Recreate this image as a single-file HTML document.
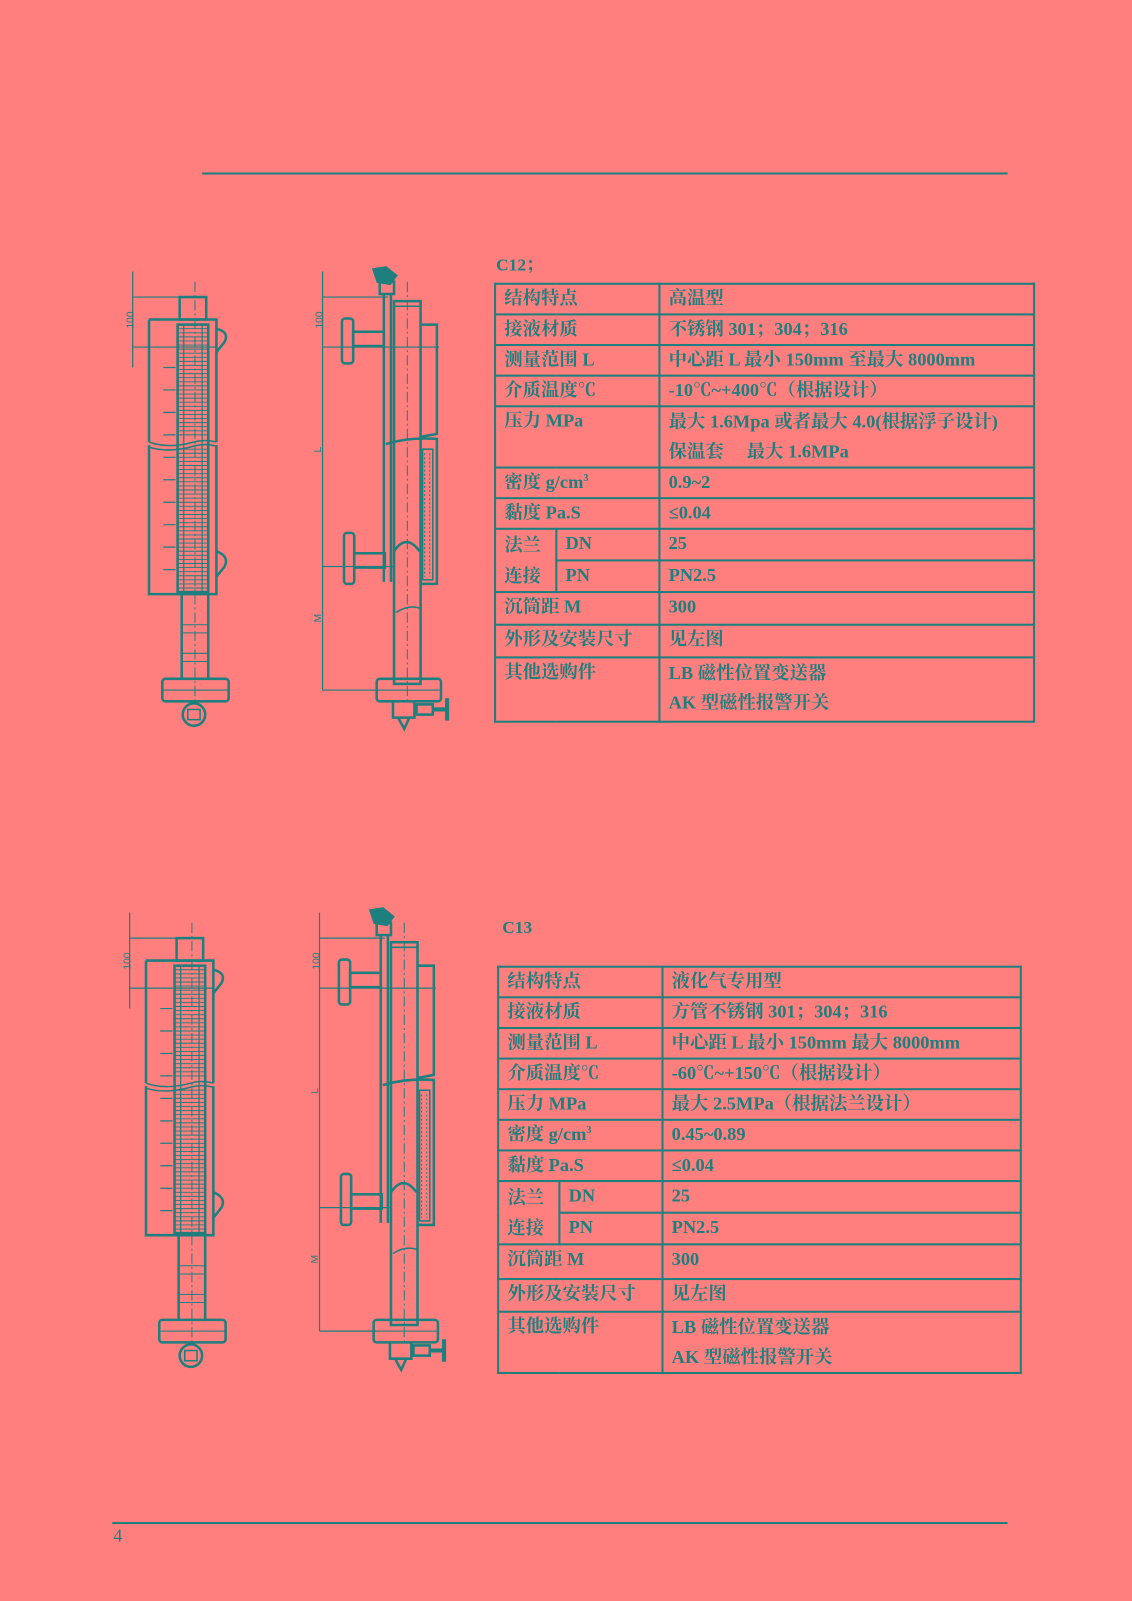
<!DOCTYPE html>
<html><head><meta charset="utf-8"><style>
html,body{margin:0;padding:0;}
body{width:1132px;height:1600px;background:#FF7F7F;overflow:hidden;position:relative;font-family:"Liberation Serif","Noto Serif CJK SC","Noto Sans CJK SC",serif;color:#1E7F7F;}
#wrap{position:absolute;left:0;top:0;width:1109px;height:1568px;transform:scale(1.0208);transform-origin:0 0;}
.t{position:absolute;border-collapse:collapse;font-size:18px;font-weight:bold;}
.t td{border:2px solid #1E7F7F;padding:0 0 0 8px;vertical-align:top;line-height:27px;}
.lbl{position:absolute;font-size:17px;font-weight:bold;}
</style></head><body><div id="wrap">
<svg width="1109" height="1568" style="position:absolute;left:0;top:0" fill="none" stroke="#1E7F7F" stroke-width="2.5">
<line x1="198" y1="170" x2="987" y2="170" stroke-width="2"/>
<line x1="110" y1="1492" x2="987" y2="1492" stroke-width="2"/>
<defs>
<g id="dr">
 <line x1="130" y1="266" x2="130" y2="360" stroke-width="1.2"/>
 <line x1="130" y1="291" x2="200" y2="291" stroke-width="1.2"/>
 <line x1="130" y1="340" x2="212" y2="340" stroke-width="1.2"/>
 <line x1="191" y1="276" x2="191" y2="690" stroke-width="1" stroke-dasharray="10 3 2 3"/>
 <rect x="176" y="291" width="26" height="22"/>
 <path d="M146 313 H212 V433 M146 313 V433 M146 436 V582 H212 V436"/>
 <path d="M146 433 Q165 440 190 433 Q200 430 212 433 M146 438 Q165 444 190 437 Q200 434 212 437" stroke-width="1.5"/>
 <rect x="174" y="318" width="30" height="262"/>
 <path d="M180 318 V580 M198 318 V580" stroke-width="1.2"/>
 <path d="M174 322 H204 M174 326 H204 M174 330 H204 M174 334 H204 M174 338 H204 M174 342 H204 M174 346 H204 M174 350 H204 M174 354 H204 M174 358 H204 M174 362 H204 M174 366 H204 M174 370 H204 M174 374 H204 M174 378 H204 M174 382 H204 M174 386 H204 M174 390 H204 M174 394 H204 M174 398 H204 M174 402 H204 M174 406 H204 M174 410 H204 M174 414 H204 M174 418 H204 M174 422 H204 M174 426 H204 M174 440 H204 M174 444 H204 M174 448 H204 M174 452 H204 M174 456 H204 M174 460 H204 M174 464 H204 M174 468 H204 M174 472 H204 M174 476 H204 M174 480 H204 M174 484 H204 M174 488 H204 M174 492 H204 M174 496 H204 M174 500 H204 M174 504 H204 M174 508 H204 M174 512 H204 M174 516 H204 M174 520 H204 M174 524 H204 M174 528 H204 M174 532 H204 M174 536 H204 M174 540 H204 M174 544 H204 M174 548 H204 M174 552 H204 M174 556 H204 M174 560 H204 M174 564 H204 M174 568 H204 M174 572 H204 M174 576 H204" stroke-width="0.9"/>
 <path d="M160 360 H172 M160 382 H172 M160 404 H172 M160 426 H172 M160 448 H172 M160 470 H172 M160 492 H172 M160 514 H172 M160 536 H172 M160 558 H172" stroke-width="1.2"/>
 <path d="M212 322 Q225 325 220 335 L212 345 M212 540 Q225 545 220 555 L212 565"/>
 <path d="M178 582 V665 M204 582 V665" />
 <path d="M178 612 H204 M178 620 H204 M178 640 H204 M178 648 H204" stroke-width="1"/>
 <rect x="159" y="665" width="65" height="22" rx="3"/>
 <line x1="159" y1="676" x2="224" y2="676" stroke-width="1"/>
 <circle cx="190" cy="700" r="11"/>
 <rect x="184" y="695" width="12" height="10" stroke-width="1.5"/>
 <line x1="316" y1="266" x2="316" y2="676" stroke-width="1.2"/>
 <path d="M316 291 H380 M316 340 H430 M316 555 H385 M316 676 H372" stroke-width="1.2"/>
 <path d="M366 264 L378 262 L388 270 L382 278 L370 276 Z" fill="#1E7F7F"/>
 <rect x="372" y="276" width="14" height="12"/>
 <path d="M376 288 V570 M383 288 V570"/>
 <rect x="386" y="295" width="26" height="375"/>
 <path d="M386 300 H412" stroke-width="1.5"/>
 <path d="M412 318 H428 V425 L412 428"/>
 <path d="M378 435 Q400 428 428 430 V572 H412"/>
 <rect x="414" y="440" width="10" height="128" stroke-width="1.5"/>
 <path d="M416 444 V565 M421 444 V565" stroke-width="1" stroke-dasharray="2 2"/>
 <path d="M386 540 Q398 522 411 540" />
 <path d="M388 600 Q400 592 412 596" stroke-width="1.5"/>
 <rect x="335" y="312" width="11" height="44" rx="3"/>
 <rect x="346" y="325" width="30" height="14"/>
 <rect x="337" y="522" width="10" height="50" rx="3"/>
 <rect x="347" y="542" width="30" height="14"/>
 <line x1="399" y1="276" x2="399" y2="690" stroke-width="1" stroke-dasharray="10 3 2 3"/>
 <rect x="369" y="665" width="63" height="22" rx="3"/>
 <line x1="369" y1="676" x2="432" y2="676" stroke-width="1"/>
 <path d="M385 687 V703 H406 V687 M390 703 L396 714 L401 703"/>
 <rect x="408" y="690" width="16" height="10"/>
 <path d="M424 695 H436 M438 684 V706" stroke-width="4"/>
</g>
</defs>
<use href="#dr"/>
<use href="#dr" transform="translate(-3,628)"/>
</svg>
<div class="lbl" style="left:120px;top:308px;font-size:10px;font-weight:normal;transform:rotate(-90deg);font-family:'Liberation Sans',sans-serif">100</div>
<div class="lbl" style="left:305px;top:308px;font-size:10px;font-weight:normal;transform:rotate(-90deg);font-family:'Liberation Sans',sans-serif">100</div>
<div class="lbl" style="left:309px;top:435px;font-size:10px;font-weight:normal;transform:rotate(-90deg);font-family:'Liberation Sans',sans-serif">L</div>
<div class="lbl" style="left:308px;top:600px;font-size:10px;font-weight:normal;transform:rotate(-90deg);font-family:'Liberation Sans',sans-serif">M</div>
<div class="lbl" style="left:117px;top:936px;font-size:10px;font-weight:normal;transform:rotate(-90deg);font-family:'Liberation Sans',sans-serif">100</div>
<div class="lbl" style="left:302px;top:936px;font-size:10px;font-weight:normal;transform:rotate(-90deg);font-family:'Liberation Sans',sans-serif">100</div>
<div class="lbl" style="left:306px;top:1063px;font-size:10px;font-weight:normal;transform:rotate(-90deg);font-family:'Liberation Sans',sans-serif">L</div>
<div class="lbl" style="left:305px;top:1228px;font-size:10px;font-weight:normal;transform:rotate(-90deg);font-family:'Liberation Sans',sans-serif">M</div>

<div class="lbl" style="left:486px;top:245px">C12；</div>
<table class="t" style="left:484px;top:277px;width:530px">
<colgroup><col style="width:60px"><col style="width:101px"><col></colgroup>
<tr style="height:30px"><td colspan="2">结构特点</td><td>高温型</td></tr>
<tr style="height:30px"><td colspan="2">接液材质</td><td>不锈钢 301；304；316</td></tr>
<tr style="height:30px"><td colspan="2">测量范围 L</td><td>中心距 L 最小 150mm 至最大 8000mm</td></tr>
<tr style="height:30px"><td colspan="2">介质温度℃</td><td>-10℃~+400℃（根据设计）</td></tr>
<tr style="height:60px"><td colspan="2">压力 MPa</td><td style="line-height:29px">最大 1.6Mpa 或者最大 4.0(根据浮子设计)<br>保温套&nbsp;&nbsp;&nbsp;&nbsp;&nbsp;最大 1.6MPa</td></tr>
<tr style="height:30px"><td colspan="2">密度 g/cm<sup style="font-size:10px;line-height:0">3</sup></td><td>0.9~2</td></tr>
<tr style="height:30px"><td colspan="2">黏度 Pa.S</td><td>≤0.04</td></tr>
<tr style="height:30px"><td rowspan="2" style="line-height:30px">法兰<br>连接</td><td>DN</td><td>25</td></tr>
<tr style="height:30px"><td>PN</td><td>PN2.5</td></tr>
<tr style="height:32px"><td colspan="2">沉筒距 M</td><td>300</td></tr>
<tr style="height:32px"><td colspan="2">外形及安装尺寸</td><td>见左图</td></tr>
<tr style="height:63px"><td colspan="2">其他选购件</td><td style="line-height:29px">LB 磁性位置变送器<br>AK 型磁性报警开关</td></tr>
</table>

<div class="lbl" style="left:492px;top:899px">C13</div>
<table class="t" style="left:487px;top:946px;width:514px">
<colgroup><col style="width:60px"><col style="width:101px"><col></colgroup>
<tr style="height:30px"><td colspan="2">结构特点</td><td>液化气专用型</td></tr>
<tr style="height:30px"><td colspan="2">接液材质</td><td>方管不锈钢 301；304；316</td></tr>
<tr style="height:30px"><td colspan="2">测量范围 L</td><td>中心距 L 最小 150mm 最大 8000mm</td></tr>
<tr style="height:30px"><td colspan="2">介质温度℃</td><td>-60℃~+150℃（根据设计）</td></tr>
<tr style="height:30px"><td colspan="2">压力 MPa</td><td>最大 2.5MPa（根据法兰设计）</td></tr>
<tr style="height:30px"><td colspan="2">密度 g/cm<sup style="font-size:10px;line-height:0">3</sup></td><td>0.45~0.89</td></tr>
<tr style="height:30px"><td colspan="2">黏度 Pa.S</td><td>≤0.04</td></tr>
<tr style="height:30px"><td rowspan="2" style="line-height:30px">法兰<br>连接</td><td>DN</td><td>25</td></tr>
<tr style="height:30px"><td>PN</td><td>PN2.5</td></tr>
<tr style="height:34px"><td colspan="2">沉筒距 M</td><td>300</td></tr>
<tr style="height:32px"><td colspan="2">外形及安装尺寸</td><td>见左图</td></tr>
<tr style="height:60px"><td colspan="2">其他选购件</td><td style="line-height:29px">LB 磁性位置变送器<br>AK 型磁性报警开关</td></tr>
</table>

<div class="lbl" style="left:111px;top:1494px;font-weight:normal;font-size:18px">4</div>
</div></body></html>
